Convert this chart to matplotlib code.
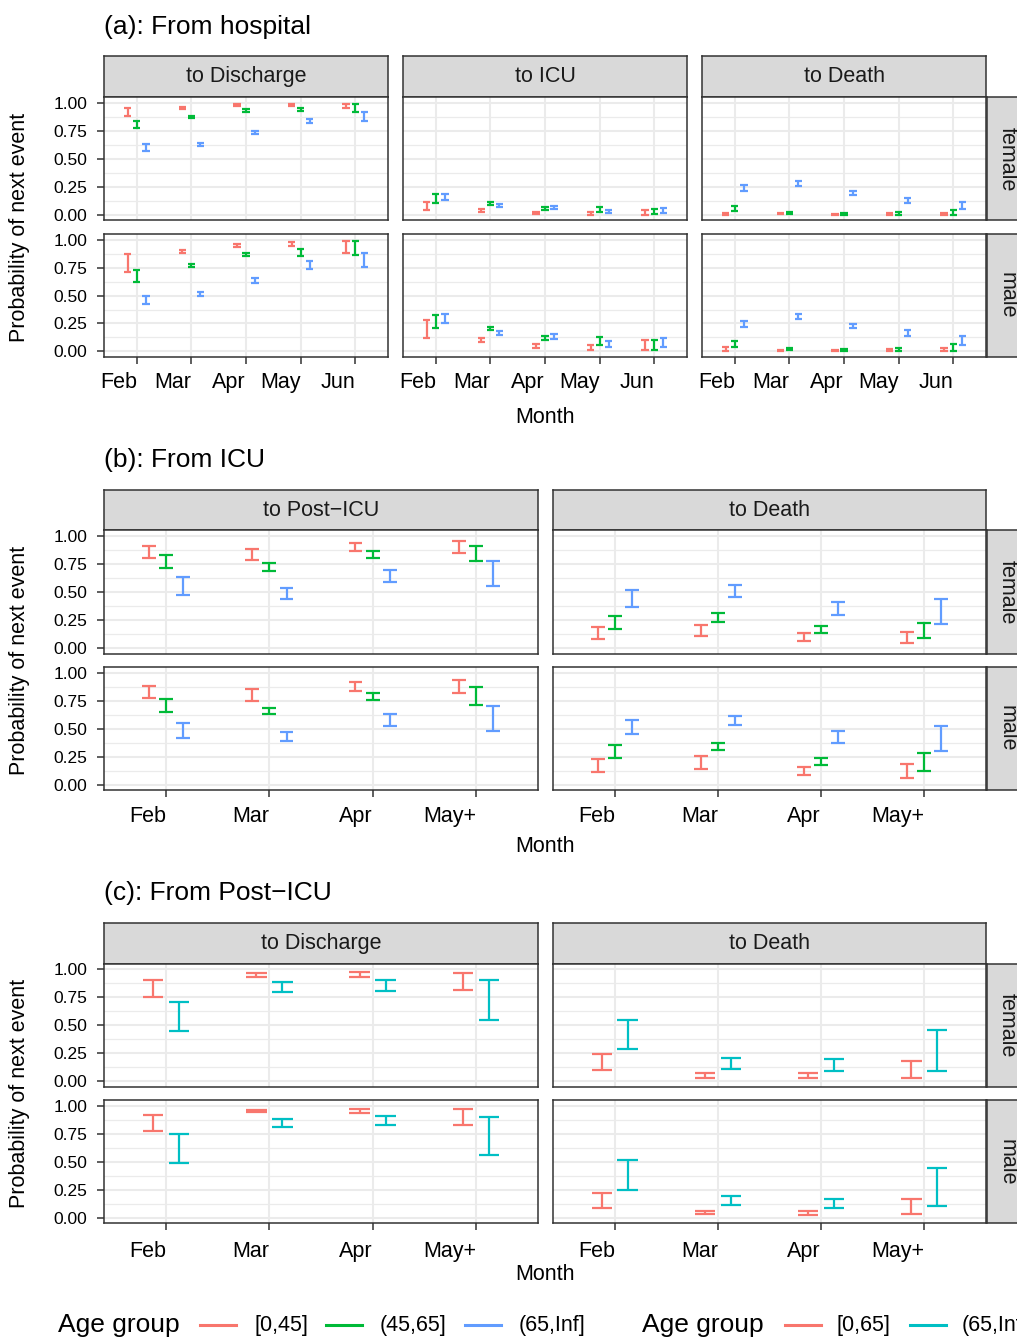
import numpy as np
import matplotlib.pyplot as plt
from matplotlib.lines import Line2D
from matplotlib.ticker import FormatStrFormatter

plt.rcParams['font.family'] = ['Liberation Sans', 'DejaVu Sans']

# ---------------- data: (lower, upper) interval per month ----------------
sexes = ["female", "male"]

# (a) from hospital
hosp_months = ["Feb", "Mar", "Apr", "May", "Jun"]
hosp_ages = ["[0,45]", "(45,65]", "(65,Inf]"]
hosp_targets = ["to Discharge", "to ICU", "to Death"]

hosp_discharge_female = [
    [(0.884, 0.949), (0.943, 0.964), (0.973, 0.985), (0.967, 0.985), (0.952, 0.985)],
    [(0.771, 0.836), (0.863, 0.881), (0.920, 0.940), (0.926, 0.955), (0.920, 0.985)],
    [(0.568, 0.634), (0.616, 0.643), (0.720, 0.747), (0.821, 0.854), (0.833, 0.914)],
]
hosp_discharge_male = [
    [(0.713, 0.874), (0.877, 0.904), (0.934, 0.964), (0.940, 0.982), (0.883, 0.985)],
    [(0.620, 0.725), (0.760, 0.781), (0.853, 0.883), (0.853, 0.919), (0.859, 0.985)],
    [(0.422, 0.497), (0.497, 0.536), (0.614, 0.653), (0.737, 0.805), (0.757, 0.877)],
]
hosp_icu_female = [
    [(0.039, 0.116), (0.027, 0.051), (0.006, 0.024), (0.000, 0.024), (0.000, 0.042)],
    [(0.107, 0.182), (0.089, 0.116), (0.045, 0.068), (0.027, 0.065), (0.003, 0.048)],
    [(0.134, 0.188), (0.071, 0.095), (0.051, 0.077), (0.015, 0.042), (0.015, 0.060)],
]
hosp_icu_male = [
    [(0.123, 0.281), (0.087, 0.117), (0.033, 0.063), (0.012, 0.057), (0.012, 0.102)],
    [(0.213, 0.326), (0.192, 0.219), (0.102, 0.138), (0.057, 0.129), (0.012, 0.102)],
    [(0.257, 0.335), (0.147, 0.186), (0.114, 0.153), (0.039, 0.090), (0.039, 0.120)],
]
hosp_death_female = [
    [(0.000, 0.018), (0.003, 0.012), (0.000, 0.010), (0.000, 0.015), (0.000, 0.015)],
    [(0.030, 0.077), (0.009, 0.027), (0.000, 0.015), (0.000, 0.024), (0.000, 0.042)],
    [(0.208, 0.262), (0.253, 0.301), (0.176, 0.214), (0.107, 0.152), (0.051, 0.110)],
]
hosp_death_male = [
    [(0.000, 0.036), (0.000, 0.015), (0.000, 0.012), (0.000, 0.020), (0.000, 0.033)],
    [(0.036, 0.090), (0.012, 0.030), (0.000, 0.018), (0.000, 0.027), (0.000, 0.063)],
    [(0.216, 0.269), (0.293, 0.335), (0.210, 0.249), (0.138, 0.192), (0.060, 0.138)],
]

# (b) from ICU
icu_months = ["Feb", "Mar", "Apr", "May+"]
icu_ages = ["[0,45]", "(45,65]", "(65,Inf]"]
icu_targets = ["to Post\u2212ICU", "to Death"]

icu_posticu_female = [
    [(0.807, 0.914), (0.786, 0.887), (0.866, 0.935), (0.851, 0.955)],
    [(0.714, 0.827), (0.688, 0.756), (0.801, 0.863), (0.774, 0.908)],
    [(0.470, 0.631), (0.435, 0.539), (0.592, 0.699), (0.554, 0.774)],
]
icu_posticu_male = [
    [(0.771, 0.884), (0.750, 0.857), (0.836, 0.914), (0.818, 0.938)],
    [(0.652, 0.765), (0.631, 0.688), (0.756, 0.821), (0.714, 0.875)],
    [(0.420, 0.554), (0.387, 0.467), (0.527, 0.634), (0.479, 0.705)],
]
icu_death_female = [
    [(0.080, 0.188), (0.104, 0.205), (0.060, 0.134), (0.042, 0.140)],
    [(0.170, 0.283), (0.235, 0.310), (0.131, 0.199), (0.089, 0.226)],
    [(0.363, 0.521), (0.458, 0.563), (0.292, 0.408), (0.217, 0.440)],
]
icu_death_male = [
    [(0.116, 0.229), (0.143, 0.253), (0.083, 0.161), (0.063, 0.185)],
    [(0.235, 0.354), (0.310, 0.375), (0.176, 0.241), (0.125, 0.286)],
    [(0.449, 0.580), (0.536, 0.613), (0.369, 0.476), (0.298, 0.521)],
]

# (c) from post-ICU
post_months = ["Feb", "Mar", "Apr", "May+"]
post_ages = ["[0,65]", "(65,Inf]"]
post_targets = ["to Discharge", "to Death"]

post_discharge_female = [
    [(0.755, 0.901), (0.928, 0.964), (0.928, 0.976), (0.815, 0.970)],
    [(0.448, 0.710), (0.797, 0.890), (0.803, 0.907), (0.543, 0.904)],
]
post_discharge_male = [
    [(0.776, 0.916), (0.945, 0.964), (0.940, 0.976), (0.830, 0.970)],
    [(0.487, 0.752), (0.809, 0.884), (0.830, 0.910), (0.561, 0.904)],
]
post_death_female = [
    [(0.096, 0.245), (0.030, 0.069), (0.024, 0.069), (0.030, 0.182)],
    [(0.287, 0.549), (0.104, 0.203), (0.087, 0.197), (0.093, 0.454)],
]
post_death_male = [
    [(0.087, 0.221), (0.030, 0.060), (0.024, 0.060), (0.033, 0.170)],
    [(0.248, 0.516), (0.110, 0.194), (0.087, 0.170), (0.104, 0.442)],
]

hue3 = ["#F8766D", "#00BA38", "#619CFF"]
hue2 = ["#F8766D", "#00BFC4"]

# ---------------- layout helpers (pixel coords, origin top-left) ----------------
W, H = 1017, 1337
fig = plt.figure(figsize=(W / 100, H / 100), dpi=100)
fig.patch.set_facecolor("white")

GREY20 = "#333333"
GRID = "#EBEBEB"
STRIP = "#D9D9D9"


def px_axes(x0, y0, x1, y1):
    return fig.add_axes([x0 / W, 1 - y1 / H, (x1 - x0) / W, (y1 - y0) / H])


def fx(x):
    return x / W


def fy(y):
    return 1 - y / H


def strip_axes(x0, y0, x1, y1):
    s = px_axes(x0, y0, x1, y1)
    s.set_facecolor(STRIP)
    s.set_xticks([])
    s.set_yticks([])
    for sp in s.spines.values():
        sp.set_color(GREY20)
        sp.set_linewidth(1.1)
    return s


def draw_panel(ax, months, groups, colors, left, bottom, tick_pad):
    n = len(groups)
    x = np.arange(1, len(months) + 1)
    cap = 0.4 / n
    for i, (grp, col) in enumerate(zip(groups, colors)):
        off = (i - (n - 1) / 2) * 0.5 / n
        lo = np.array([g[0] for g in grp])
        hi = np.array([g[1] for g in grp])
        xs = x + off
        ax.vlines(xs, lo, hi, color=col, lw=1.6, zorder=3)
        ax.hlines(lo, xs - cap / 2, xs + cap / 2, color=col, lw=1.6, zorder=3)
        ax.hlines(hi, xs - cap / 2, xs + cap / 2, color=col, lw=1.6, zorder=3)

    ax.set_xlim(0.4, len(months) + 0.6)
    ax.set_ylim(-0.05, 1.05)
    ax.set_facecolor("white")
    ax.set_axisbelow(True)
    ax.set_xticks(x)
    ax.set_yticks([0, 0.25, 0.5, 0.75, 1.0])
    ax.set_yticks([0.125, 0.375, 0.625, 0.875], minor=True)
    ax.yaxis.set_major_formatter(FormatStrFormatter("%.2f"))
    ax.grid(True, which="major", color=GRID, lw=1.5)
    ax.grid(True, which="minor", axis="y", color=GRID, lw=0.9)
    ax.tick_params(which="minor", length=0)
    ax.tick_params(which="major", length=5, width=1.1, color=GREY20)
    for sp in ax.spines.values():
        sp.set_color(GREY20)
        sp.set_linewidth(1.1)
    if bottom:
        ax.set_xticklabels(months, ha="right", fontsize=15.5)
        ax.tick_params(axis="x", pad=tick_pad)
    else:
        ax.tick_params(axis="x", bottom=False, labelbottom=False)
    if left:
        ax.tick_params(axis="y", labelsize=12.5, pad=7)
    else:
        ax.tick_params(axis="y", left=False, labelleft=False)


def draw_section(title, title_y, months, colors, targets, data, cols, strip, rows,
                 tick_pad, month_y):
    fig.text(fx(104), fy(title_y), title, fontsize=19, ha="left", va="center")
    for c, (target, (x0, x1)) in enumerate(zip(targets, cols)):
        s = strip_axes(x0, strip[0], x1, strip[1])
        s.text(0.5, 0.5, target, transform=s.transAxes, ha="center",
               va="center", fontsize=15.5, color="#1A1A1A")
        for r, (y0, y1) in enumerate(rows):
            ax = px_axes(x0, y0, x1, y1)
            draw_panel(ax, months, data[c][r], colors, left=(c == 0),
                       bottom=(r == len(rows) - 1), tick_pad=tick_pad)
    # right-hand sex strips
    xr = cols[-1][1]
    for sex, (y0, y1) in zip(sexes, rows):
        strip_axes(xr + 1, y0, xr + 42, y1)
        fig.text(fx(xr + 21), fy((y0 + y1) / 2), sex, rotation=-90,
                 ha="center", va="center", fontsize=15.5, color="#1A1A1A")
    # axis titles
    fig.text(fx((cols[0][0] + cols[-1][1]) / 2), fy(month_y), "Month",
             ha="center", va="center", fontsize=15.5)
    fig.text(fx(20), fy((rows[0][0] + rows[-1][1]) / 2), "Probability of next event",
             rotation=90, ha="center", va="center", fontsize=15.5)


# (a)
draw_section(
    "(a): From hospital", 27, hosp_months, hue3, hosp_targets,
    [[hosp_discharge_female, hosp_discharge_male],
     [hosp_icu_female, hosp_icu_male],
     [hosp_death_female, hosp_death_male]],
    cols=[(104, 388), (403, 687), (702, 986)],
    strip=(56, 97.1), rows=[(97.1, 220.3), (234.1, 357.0)],
    tick_pad=6, month_y=417,
)

# (b)
draw_section(
    "(b): From ICU", 460, icu_months, hue3, icu_targets,
    [[icu_posticu_female, icu_posticu_male],
     [icu_death_female, icu_death_male]],
    cols=[(104, 538), (553, 986)],
    strip=(490, 530.4), rows=[(530.4, 653.6), (667.1, 790.3)],
    tick_pad=6.5, month_y=846,
)

# (c)
draw_section(
    "(c): From Post\u2212ICU", 893, post_months, hue2, post_targets,
    [[post_discharge_female, post_discharge_male],
     [post_death_female, post_death_male]],
    cols=[(104, 538), (553, 986)],
    strip=(923, 963.7), rows=[(963.7, 1086.6), (1100.4, 1223.3)],
    tick_pad=8, month_y=1275,
)

# ---------------- bottom legends ----------------
leg_y = 1325


def draw_legend(title_x, key_xs, label_xs, labels, colors):
    fig.text(fx(title_x), fy(leg_y), "Age group", fontsize=19, ha="left",
             va="center")
    for kx, lx, lab, col in zip(key_xs, label_xs, labels, colors):
        fig.add_artist(Line2D([fx(kx), fx(kx + 36)], [fy(leg_y), fy(leg_y)],
                              color=col, lw=2.2, transform=fig.transFigure))
        fig.text(fx(lx), fy(leg_y), lab, fontsize=15.5, ha="left", va="center")


draw_legend(58, [200, 326, 465], [254, 380, 519], hosp_ages, hue3)
draw_legend(642, [785, 910], [837, 962], post_ages, hue2)

fig.savefig("out.png", dpi=100)
